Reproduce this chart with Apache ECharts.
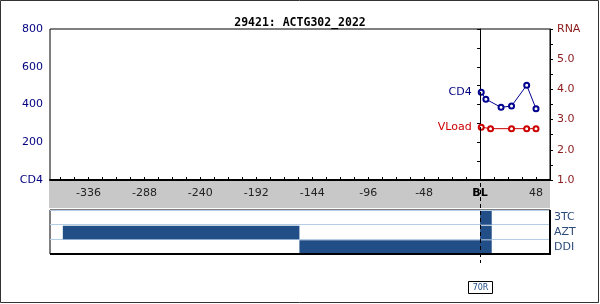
<!DOCTYPE html>
<html><head><meta charset="utf-8">
<script src="https://cdn.jsdelivr.net/npm/echarts@6/dist/echarts.min.js"></script>
<style>html,body{margin:0;padding:0;background:#fff}#c{width:600px;height:304px}</style>
</head><body><div id="c"></div>
<script>
const chartTitle = '29421: ACTG302_2022';
const cd4Days = [1, 5, 18, 27, 40, 48];
const cd4Values = [465, 428, 385, 392, 502, 378];
const vlDays = [1, 9, 27, 40, 48];
const vlValues = [2.75, 2.7, 2.7, 2.7, 2.7];
const xLabelValues = [-336, -288, -240, -192, -144, -96, -48, 0, 48];
const xTickValues = [-360,-348,-336,-324,-312,-300,-288,-276,-264,-252,-240,-228,-216,-204,-192,-180,-168,-156,-144,-132,-120,-108,-96,-84,-72,-60,-48,-36,-24,-12,0,12,24,36,48];
const drugNames = ['3TC', 'AZT', 'DDI'];
const drugNameList = ['AZT', 'AZT', 'DDI', '3TC'];
const drugStarts = [-358, 0, -155, 0];
const drugEnds = [-155, 10, 10, 10];
const markerText = '70R';
const xMin = -369, xMax = 60;

const FONT = 'DejaVu Sans';
const chart = echarts.init(document.getElementById('c'));
const cd4Data = cd4Days.map((d, i) => i === 0
  ? { value: [d, cd4Values[i]], label: { show: true, formatter: 'CD4', position: 'left', distance: 6, color: '#000080', fontFamily: FONT, fontSize: 11 } }
  : [d, cd4Values[i]]);
const vlData = vlDays.map((d, i) => i === 0
  ? { value: [d, vlValues[i]], label: { show: true, formatter: 'VLoad', position: 'left', distance: 6, color: '#cc0000', fontFamily: FONT, fontSize: 11 } }
  : [d, vlValues[i]]);
const drugData = drugNameList.map((n, i) => [n, drugStarts[i], drugEnds[i]]);

chart.setOption({
  animation: false,
  title: { text: chartTitle, left: 'center', top: 12, textStyle: { fontFamily: 'DejaVu Sans Mono', fontWeight: 'bold', fontSize: 11.5, color: '#000' } },
  grid: [
    { left: 50, width: 500, top: 29, height: 151, show: true, borderColor: '#000', borderWidth: 1 },
    { left: 50, width: 500, top: 210, height: 44, show: true, borderColor: '#000', borderWidth: 1 }
  ],
  xAxis: [
    { type: 'value', gridIndex: 0, min: xMin, max: xMax,
      axisLine: { onZero: false, lineStyle: { color: '#000', width: 2 } },
      axisTick: { show: true, inside: true, length: 3, customValues: xTickValues, lineStyle: { color: '#000' } },
      splitLine: { show: false },
      axisLabel: { customValues: xLabelValues, margin: 8, color: '#222', fontFamily: FONT, fontSize: 11,
        formatter: v => v === 0 ? '{b|BL}' : String(v), rich: { b: { fontWeight: 'bold', color: '#000', fontFamily: FONT, fontSize: 11 } } } },
    { type: 'value', gridIndex: 1, min: xMin, max: xMax, show: false }
  ],
  yAxis: [
    { type: 'value', gridIndex: 0, min: 0, max: 800, interval: 100, position: 'left',
      axisLine: { show: true, lineStyle: { color: '#000', width: 1 } },
      axisTick: { show: true, length: 3, lineStyle: { color: '#000' } },
      splitLine: { show: false },
      axisLabel: { margin: 7, color: '#000080', fontFamily: FONT, fontSize: 11,
        formatter: v => v === 0 ? 'CD4' : (v % 200 === 0 ? String(v) : '') } },
    { type: 'value', gridIndex: 0, min: 1, max: 6, interval: 0.5, position: 'right',
      axisLine: { show: true, lineStyle: { color: '#000', width: 1 } },
      axisTick: { show: true, length: 3, lineStyle: { color: '#000' } },
      splitLine: { show: false },
      axisLabel: { margin: 7, color: '#8b1a1a', fontFamily: FONT, fontSize: 11,
        formatter: v => v === 6 ? 'RNA' : (Math.abs(v - Math.round(v)) < 1e-6 ? v.toFixed(1) : '') } },
    { type: 'category', gridIndex: 1, data: drugNames, inverse: true, position: 'right',
      axisLine: { show: false }, axisTick: { show: false },
      splitLine: { show: true, lineStyle: { color: '#b4cde6', width: 1 } },
      axisLabel: { margin: 4, color: '#2d4a7a', fontFamily: FONT, fontSize: 11 } }
  ],
  series: [
    { type: 'line', name: 'CD4', xAxisIndex: 0, yAxisIndex: 0, data: cd4Data,
      symbol: 'emptyCircle', symbolSize: 5, lineStyle: { color: '#000090', width: 1 },
      itemStyle: { color: '#000090', borderWidth: 1 }, z: 5 },
    { type: 'line', name: 'VLoad', xAxisIndex: 0, yAxisIndex: 1, data: vlData,
      symbol: 'emptyCircle', symbolSize: 5, lineStyle: { color: '#cc0000', width: 1 },
      itemStyle: { color: '#cc0000', borderWidth: 1 }, z: 5 },
    { type: 'custom', xAxisIndex: 1, yAxisIndex: 2, data: drugData,
      encode: { x: [1, 2], y: 0 },
      renderItem: (params, api) => {
        const c = api.value(0);
        const a = api.coord([api.value(1), c]);
        const b = api.coord([api.value(2), c]);
        const h = api.size([0, 1])[1];
        return { type: 'rect', shape: { x: a[0], y: a[1] - h / 2 + 1, width: b[0] - a[0], height: h - 1 },
          style: { fill: '#224e87' } };
      } }
  ]
});

const x0 = chart.convertToPixel({ xAxisIndex: 0 }, 0);
chart.setOption({
  graphic: [
    { type: 'rect', z: -1, silent: true, shape: { x: 49, y: 181, width: 501, height: 27 }, style: { fill: '#c8c8c8' } },
    { type: 'polyline', z: 100, silent: true, shape: { points: [[50, 254], [550, 254], [550, 210]] }, style: { stroke: '#000', lineWidth: 2, fill: null } },
    { type: 'rect', z: 100, silent: true, shape: { x: 0.5, y: 0.5, width: 598, height: 302 }, style: { fill: null, stroke: '#333', lineWidth: 1 } },
    { type: 'line', z: 100, silent: true, shape: { x1: Math.round(x0) + 0.5, y1: 29, x2: Math.round(x0) + 0.5, y2: 263 },
      style: { stroke: '#000', lineWidth: 1, lineDash: [4, 3] } },
    { type: 'rect', z: 100, silent: true, shape: { x: Math.round(x0) - 11.5, y: 281.5, width: 24, height: 12 },
      style: { fill: '#fff', stroke: '#000', lineWidth: 1 } },
    { type: 'text', z: 101, silent: true, x: Math.round(x0) + 0.5, y: 288,
      style: { text: markerText, fill: '#224e87', font: '8px "DejaVu Sans"', align: 'center', verticalAlign: 'middle' } }
  ]
});
</script></body></html>
